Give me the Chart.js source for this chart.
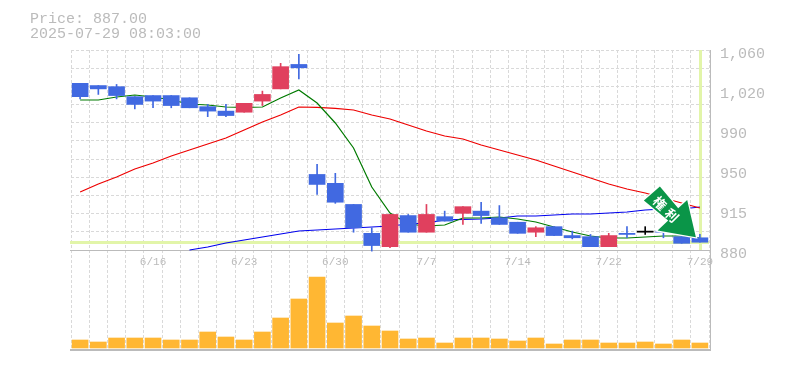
<!DOCTYPE html>
<html><head><meta charset="utf-8">
<style>html,body{margin:0;padding:0;background:#fff}#w{width:785px;height:370px;position:relative}</style>
<script src="https://cdn.jsdelivr.net/npm/chart.js@4"></script>
</head><body><div id="w"><canvas id="c" width="785" height="370"></canvas></div>
<script>
const dates=['6/10','6/11','6/12','6/13','6/16','6/17','6/18','6/19','6/20','6/23','6/24','6/25','6/26','6/27','6/30','7/1','7/2','7/3','7/4','7/7','7/8','7/9','7/10','7/11','7/14','7/15','7/16','7/17','7/18','7/22','7/23','7/24','7/25','7/28','7/29'];
const shownDates=['6/16','6/23','6/30','7/7','7/14','7/22','7/29'];
const opens=[1030,1028,1027,1018,1019,1019,1017,1009,1005,1004,1014,1025,1047,948,940,921,895,883,911,896,910,913,915,909,905,896,901,893,892,883,895,897,897,892,891];
const closes=[1018,1025,1019,1011,1014,1010,1008,1005,1001,1012,1020,1045,1044,939,923,900,884,912,896,912,906,919,911,903,895,900,893,891,883,893,894,896,896,886,887];
const highs=[1030,1028,1029,1018,1019,1019,1017,1011,1011,1012,1023,1048,1056,957,949,921,900,912,912,921,915,919,923,920,905,901,901,897,894,895,901,901,899,892,894];
const lows=[1016,1020,1016,1007,1008,1008,1008,1000,1000,1004,1010,1025,1034,930,922,896,879,882,896,896,906,903,904,903,895,892,893,890,883,883,891,894,891,886,887];
const maShort=[1015,1015,1017.7,1019.5,1017.7,1015,1011.4,1010.5,1008.7,1008.3,1008.7,1016.8,1024,1012.3,994.3,971.8,936.7,913.3,903.4,901.6,902.5,908.8,908.8,909.7,907.9,905.2,900.7,896.2,892.6,890.8,890.8,891.7,892.6,892.6,890.8];
const maMid=[932.2,939.4,945.7,952.9,958.3,964.6,970,975.4,980.8,988,995.2,1001.5,1008.7,1008.3,1007.4,1006,1001.5,997.9,992.5,987.1,982.6,979.9,974.5,970,965.5,961,955.6,950.2,944.8,939.4,934.9,931.3,926.8,922.3,917.8];
const maLong=[null,null,null,null,null,null,880,882.7,886.3,889,891.7,894.4,897.1,898,898.9,899.8,900.7,901.6,903.4,904.3,907,907.5,907.9,908.8,910.6,910.6,911.5,912.4,912.4,913.3,914.2,916,916.9,916.9,918.7];
const volumes=[8,6,10,10,10,8,8,16,11,8,16,30,49,71,25,32,22,17,9,10,5,10,10,9,7,10,4,8,8,5,5,6,4,8,5];
const priceTicks=[880,916,952,988,1024,1060];
const priceLabels=['880','915','950','990','1,020','1,060'];
const lastPrice=887;
const headerLines=['Price: 887.00','2025-07-29 08:03:00'];
const signText='権利';

const RED='#e0405e',BLUE='#4169e1',BLACK='#000';
const candleColors=dates.map((d,i)=>i===31?BLACK:closes[i]>opens[i]?RED:BLUE);
const MONO='"Liberation Mono",monospace';

const decor={id:'decor',
 beforeDatasetsDraw(ch){const {ctx,chartArea:a,scales:{x,y}}=ch;ctx.save();
  ctx.fillStyle='#e2f5a9';
  const py=Math.round(y.getPixelForValue(lastPrice));
  ctx.fillRect(a.left-1,py-1,a.right-a.left+1,3);
  const lx=Math.round(x.getPixelForValue(dates.length-1));
  ctx.fillRect(lx-1,a.top,3,y.getPixelForValue(880)-a.top);
  ctx.strokeStyle='#bbb';ctx.lineWidth=1;ctx.beginPath();
  const by=Math.round(y.getPixelForValue(880))+0.5;
  ctx.moveTo(a.left-1,by);ctx.lineTo(a.right+1,by);ctx.stroke();
  ctx.restore();},
 afterDraw(ch){const {ctx,chartArea:a,scales:{x,y}}=ch;ctx.save();
  ctx.strokeStyle='#bbb';ctx.lineWidth=1;ctx.beginPath();
  ctx.moveTo(a.right+1.5,a.top);ctx.lineTo(a.right+1.5,a.bottom+1);ctx.stroke();
  ctx.lineWidth=2;ctx.beginPath();ctx.moveTo(a.left-1,a.bottom);ctx.lineTo(a.right+2,a.bottom);ctx.stroke();
  ctx.fillStyle='#bbb';ctx.font='15px '+MONO;ctx.textBaseline='alphabetic';ctx.textAlign='left';
  headerLines.forEach((t,i)=>ctx.fillText(t,30,23+i*15));
  const tx=x.getPixelForValue(dates.length-1)-4,ty=y.getPixelForValue(lastPrice)-5;
  const pts=[[0,0],[-8.7,-37.3],[-17.7,-29],[-36,-50.6],[-52,-36.6],[-27.7,-16.6],[-38.3,-6.6]];
  ctx.beginPath();pts.forEach((p,i)=>{i?ctx.lineTo(tx+p[0],ty+p[1]):ctx.moveTo(tx+p[0],ty+p[1])});ctx.closePath();
  ctx.fillStyle='#0a9548';ctx.strokeStyle='#fff';ctx.lineWidth=2.5;ctx.lineJoin='miter';ctx.stroke();ctx.fill();
  ctx.translate(tx-30,ty-28);ctx.rotate(Math.PI/4);
  ctx.fillStyle='#fff';ctx.font='bold 13px "Noto Sans CJK JP"';ctx.letterSpacing='4px';ctx.textAlign='center';ctx.textBaseline='middle';
  ctx.fillText(signText,2,0);
  ctx.restore();}
};

new Chart(document.getElementById('c'),{
 data:{labels:dates,datasets:[
  {type:'bar',label:'Volume',data:volumes,yAxisID:'v',backgroundColor:'#ffb733',barThickness:16,grouped:false,order:6},
  {type:'line',label:'MA long',data:maLong,yAxisID:'y',borderColor:'#0000ee',borderWidth:1.2,pointRadius:0,tension:0,order:5},
  {type:'line',label:'MA mid',data:maMid,yAxisID:'y',borderColor:'#ee0000',borderWidth:1.2,pointRadius:0,tension:0,order:4},
  {type:'line',label:'MA short',data:maShort,yAxisID:'y',borderColor:'#007a00',borderWidth:1.2,pointRadius:0,tension:0,order:3},
  {type:'bar',label:'Wick',data:dates.map((d,i)=>[lows[i],highs[i]]),yAxisID:'y',backgroundColor:candleColors,barThickness:1,grouped:false,order:2},
  {type:'bar',label:'Body',data:dates.map((d,i)=>[opens[i],closes[i]]),yAxisID:'y',backgroundColor:candleColors,barThickness:16,grouped:false,order:1}
 ]},
 options:{responsive:false,animation:false,
  layout:{padding:{left:71,top:50,bottom:20,right:0}},
  plugins:{legend:{display:false},tooltip:{enabled:false}},
  scales:{
   x:{type:'category',position:{y:880},offset:true,
      grid:{offset:true,color:'#d9d9d9',drawTicks:false},
      border:{display:false,dash:[3,2]},
      ticks:{autoSkip:false,maxRotation:0,minRotation:0,padding:5,color:'#bbb',font:{family:MONO,size:11},
        callback(v,i){const l=dates[i];return shownDates.includes(l)?l:''}}},
   y:{type:'linear',position:'right',min:790,max:1060,
      afterBuildTicks(s){s.ticks=priceTicks.map(v=>({value:v}))},
      afterFit(s){s.width=76},
      grid:{display:false},border:{display:false},
      ticks:{padding:3,labelOffset:4,color:'#bbb',font:{family:MONO,size:15},
        callback(v){const i=priceTicks.indexOf(v);return i<0?'':priceLabels[i]}}},
   g:{type:'linear',display:true,position:'left',min:-5.5,max:11,
      afterBuildTicks(s){s.ticks=[0,1,2,3,4,5,6,7,8,9,10,11].map(v=>({value:v}))},
      afterFit(s){s.width=0},
      ticks:{display:false},border:{display:false,dash:[3,2]},
      grid:{color:'#d9d9d9',drawTicks:false}},
   v:{type:'linear',display:false,min:-2,max:298}
  }},
 plugins:[decor]
});
</script></body></html>
